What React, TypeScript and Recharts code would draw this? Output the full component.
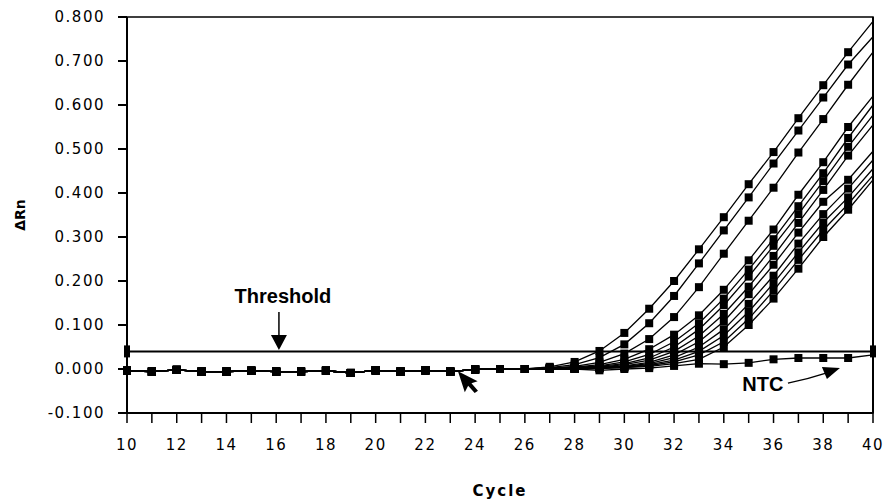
import React from "react";
import {
  LineChart,
  Line,
  XAxis,
  YAxis,
  Label,
  ReferenceArea,
  ReferenceLine,
  ReferenceDot,
} from "recharts";

// cycles on the x axis
const cycles = [
  10, 11, 12, 13, 14, 15, 16, 17, 18, 19, 20, 21, 22, 23, 24, 25, 26, 27, 28,
  29, 30, 31, 32, 33, 34, 35, 36, 37, 38, 39, 40,
];

const xTicks = cycles;
const yTicks = [-0.1, 0, 0.1, 0.2, 0.3, 0.4, 0.5, 0.6, 0.7, 0.8];

const threshold = 0.04;

// flat part shared by every run, cycles 10..26
const baseline = [
  -0.004, -0.006, -0.002, -0.006, -0.006, -0.004, -0.006, -0.006, -0.004,
  -0.009, -0.003, -0.006, -0.003, -0.006, -0.001, 0.0, 0.0,
];

// cycles 27..40 for each sample
const runA = [0.005, 0.016, 0.041, 0.082, 0.137, 0.2, 0.272, 0.345, 0.42, 0.493, 0.57, 0.645, 0.72, 0.79];
const runB = [0.003, 0.01, 0.026, 0.056, 0.104, 0.166, 0.24, 0.315, 0.39, 0.467, 0.542, 0.617, 0.692, 0.755];
const runC = [0.002, 0.006, 0.015, 0.035, 0.068, 0.118, 0.186, 0.262, 0.337, 0.412, 0.492, 0.568, 0.646, 0.72];
const runD = [0.002, 0.004, 0.01, 0.022, 0.045, 0.078, 0.122, 0.18, 0.247, 0.317, 0.396, 0.47, 0.55, 0.62];
const runE = [0.001, 0.003, 0.007, 0.016, 0.033, 0.062, 0.104, 0.16, 0.226, 0.295, 0.37, 0.445, 0.525, 0.6];
const runF = [0.0, 0.002, 0.006, 0.012, 0.025, 0.05, 0.09, 0.145, 0.21, 0.28, 0.352, 0.427, 0.505, 0.577];
const runG = [0.0, 0.001, 0.004, 0.01, 0.02, 0.04, 0.075, 0.125, 0.187, 0.257, 0.332, 0.407, 0.485, 0.555];
const runH = [0.0, 0.001, 0.003, 0.007, 0.015, 0.032, 0.062, 0.108, 0.17, 0.237, 0.31, 0.38, 0.43, 0.495];
const runI = [0.0, 0.001, 0.003, 0.006, 0.012, 0.026, 0.05, 0.09, 0.148, 0.212, 0.285, 0.352, 0.41, 0.475];
const runJ = [0.0, 0.001, 0.002, 0.005, 0.01, 0.02, 0.04, 0.076, 0.13, 0.195, 0.265, 0.333, 0.39, 0.455];
const runK = [0.0, 0.0, 0.002, 0.004, 0.008, 0.016, 0.032, 0.062, 0.114, 0.178, 0.248, 0.316, 0.375, 0.44];
const runL = [0.0, 0.0, 0.001, 0.003, 0.006, 0.012, 0.022, 0.05, 0.1, 0.16, 0.228, 0.3, 0.362, 0.43];
const ntc = [0.002, 0.0, -0.003, 0.0, 0.002, 0.007, 0.012, 0.011, 0.014, 0.022, 0.025, 0.025, 0.025, 0.032];

const runs = [runA, runB, runC, runD, runE, runF, runG, runH, runI, runJ, runK, runL, ntc];

const rows = cycles.map((c, i) => {
  const row: Record<string, number> = { cycle: c, thr: threshold };
  runs.forEach((r, k) => {
    const full = [...baseline, ...r];
    row[`s${k}`] = full[i];
  });
  return row;
});

const squareDot = (props: any) => {
  const { cx, cy, payload, index } = props;
  if (cx == null || cy == null || payload.cycle === 40) return <g key={index} />;
  return <rect key={index} x={cx - 4} y={cy - 4} width={8} height={8} fill="#000" />;
};

const endDot = (props: any) => {
  const { cx, cy, payload, index } = props;
  if (payload.cycle !== 10 && payload.cycle !== 40) return <g key={index} />;
  return <rect key={index} x={cx - 3} y={cy - 6} width={6} height={12} fill="#000" />;
};

const tickStyle = {
  fontFamily: "DejaVu Sans",
  fontSize: 15,
  fill: "#000",
  letterSpacing: 1.5,
};

const boldText = (text: string, size: number) => (props: any) => (
  <text
    x={props.cx}
    y={props.cy}
    textAnchor="middle"
    dominantBaseline="central"
    fontFamily="Liberation Sans, Arial"
    fontWeight="bold"
    fontSize={size}
    fill="#000"
  >
    {text}
  </text>
);

const downArrow = (props: any) => {
  const { cx, cy } = props;
  return (
    <g>
      <line x1={cx} y1={cy - 38} x2={cx} y2={cy - 12} stroke="#000" strokeWidth={1.5} />
      <polygon points={`${cx - 8},${cy - 15} ${cx + 8},${cy - 15} ${cx},${cy}`} fill="#000" />
    </g>
  );
};

const ntcArrow = (props: any) => {
  const { cx, cy } = props;
  return (
    <g>
      <path
        d={`M${cx - 52} ${cy + 15} Q${cx - 32} ${cy + 11} ${cx - 14} ${cy + 5}`}
        stroke="#000"
        strokeWidth={1.5}
        fill="none"
      />
      <polygon
        points={`${cx},${cy} ${cx - 13},${cy + 11} ${cx - 18},${cy - 1}`}
        fill="#000"
      />
    </g>
  );
};

const pointer = (props: any) => {
  const { cx, cy } = props;
  return (
    <path
      transform={`translate(${cx},${cy}) rotate(-18) scale(1.3)`}
      d="M0 0 L0 17 L4 13 L7 20 L10 19 L7 12 L12 12 Z"
      fill="#000"
    />
  );
};

export default function App() {
  return (
    <div style={{ position: "absolute", left: 0, top: 0, background: "#fff" }}>
      <LineChart
        width={887}
        height={500}
        data={rows}
        margin={{ top: 17, right: 14, bottom: 0, left: 0 }}
      >
        <XAxis
          dataKey="cycle"
          type="number"
          domain={[10, 40]}
          ticks={xTicks}
          interval={0}
          tickFormatter={(v: number) => (v % 2 === 0 ? String(v) : "")}
          tick={tickStyle}
          tickSize={10}
          tickMargin={16}
          tickLine={{ stroke: "#000", strokeWidth: 1.5 }}
          axisLine={{ stroke: "#000", strokeWidth: 2 }}
          height={87}
        >
          <Label
            value="Cycle"
            position="insideBottom"
            offset={4}
            style={{
              fontFamily: "DejaVu Sans",
              fontWeight: "bold",
              fontSize: 15,
              fill: "#000",
              letterSpacing: 2,
            }}
          />
        </XAxis>
        <YAxis
          type="number"
          domain={[-0.1, 0.8]}
          ticks={yTicks}
          interval={0}
          tickFormatter={(v: number) => v.toFixed(3)}
          tick={tickStyle}
          tickSize={9}
          tickMargin={13}
          tickLine={{ stroke: "#000", strokeWidth: 2 }}
          axisLine={{ stroke: "#000", strokeWidth: 2 }}
          width={127}
        >
          <Label
            value="ΔRn"
            angle={-90}
            position="insideLeft"
            offset={20}
            style={{
              textAnchor: "middle",
              fontFamily: "DejaVu Sans",
              fontWeight: "bold",
              fontSize: 14,
              fill: "#000",
            }}
          />
        </YAxis>
        <ReferenceArea
          x1={10}
          x2={40}
          y1={-0.1}
          y2={0.8}
          fill="none"
          stroke="#000"
          strokeWidth={1.5}
          ifOverflow="visible"
        />
        <ReferenceLine x={40} stroke="#000" strokeWidth={2} />
        <Line
          dataKey="thr"
          stroke="#000"
          strokeWidth={2}
          dot={endDot}
          isAnimationActive={false}
        />
        {runs.map((_, k) => (
          <Line
            key={k}
            dataKey={`s${k}`}
            type="linear"
            stroke="#000"
            strokeWidth={1.3}
            dot={squareDot}
            isAnimationActive={false}
          />
        ))}
        <ReferenceDot x={16.27} y={0.166} ifOverflow="visible" shape={boldText("Threshold", 20)} />
        <ReferenceDot x={16.11} y={0.043} ifOverflow="visible" shape={downArrow} />
        <ReferenceDot x={35.57} y={-0.034} ifOverflow="visible" shape={boldText("NTC", 20)} />
        <ReferenceDot x={38.67} y={0.002} ifOverflow="visible" shape={ntcArrow} />
        <ReferenceDot x={23.31} y={-0.005} ifOverflow="visible" shape={pointer} />
      </LineChart>
    </div>
  );
}
